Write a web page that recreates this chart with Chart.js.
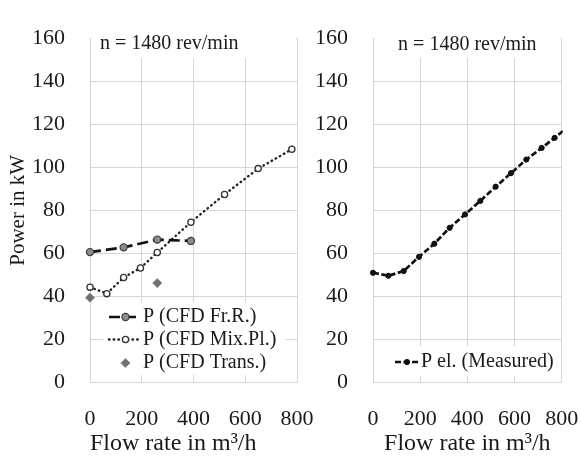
<!DOCTYPE html>
<html>
<head>
<meta charset="utf-8">
<script src="https://cdn.jsdelivr.net/npm/chart.js@4.4.1/dist/chart.umd.min.js"></script>
<style>
  body { margin: 0; background: #fff; }
  #wrap { position: relative; width: 581px; height: 457px; }
  #left { position: absolute; left: 0; top: 0; }
  #right { position: absolute; left: 300px; top: 0; }
</style>
</head>
<body>
<div id="wrap">
  <canvas id="left" width="322" height="457"></canvas>
  <canvas id="right" width="281" height="457"></canvas>
</div>
<script>
// values
const frrFlow = [0, 130, 260, 390];
const frrPower = [60.6, 62.8, 66.4, 65.8];
const mixFlow = [0, 65, 130, 195, 260, 390, 520, 650, 780];
const mixPower = [44.3, 41.3, 48.8, 53.2, 60.4, 74.5, 87.4, 99.4, 108.4];
const transFlow = [0, 260];
const transPower = [39.4, 46.2];
const measFlow = [0, 65, 130, 195, 260, 325, 390, 455, 520, 585, 650, 715, 770, 835];
const measPower = [51.0, 49.6, 51.8, 58.4, 64.5, 71.9, 78.1, 84.4, 91.0, 97.3, 103.6, 109.0, 113.7, 119.5];
const flowTicks = [0, 200, 400, 600, 800];
const powerTicks = [0, 20, 40, 60, 80, 100, 120, 140, 160];
const speedNote = 'n = 1480 rev/min';

const serif = "'Liberation Serif', 'Times New Roman', serif";
const textColor = '#1a1a1a';
const gridColor = '#d6d6d6';

const pts = (xs, ys) => xs.map((x, i) => ({ x: x, y: ys[i] }));

// white box with the speed note, drawn over the grid
const notePlugin = {
  id: 'speedNote',
  beforeDatasetsDraw(chart, args, opts) {
    const ctx = chart.ctx, a = chart.chartArea;
    ctx.save();
    ctx.fillStyle = '#fff';
    ctx.fillRect(a.left + 1, opts.boxTop, a.right - a.left - 2, opts.boxBottom - opts.boxTop);
    ctx.font = '20px ' + serif;
    ctx.fillStyle = textColor;
    ctx.textBaseline = 'middle';
    ctx.textAlign = opts.align;
    const x = opts.align === 'center' ? (a.left + a.right) / 2 : a.left + opts.inset;
    ctx.fillText(opts.text, x, opts.y);
    ctx.restore();
  }
};

// legend inside the plot, line sample + marker + label
const legendPlugin = {
  id: 'insideLegend',
  afterDatasetsDraw(chart, args, opts) {
    const ctx = chart.ctx;
    ctx.save();
    ctx.fillStyle = '#fff';
    ctx.fillRect(opts.box[0], opts.box[1], opts.box[2], opts.box[3]);
    chart.data.datasets.forEach((ds, i) => {
      const y = opts.rows[i];
      if (ds.showLine) {
        ctx.beginPath();
        ctx.setLineDash(ds.borderDash || []);
        ctx.lineWidth = ds.borderWidth;
        ctx.lineCap = ds.borderCapStyle || 'butt';
        ctx.strokeStyle = ds.borderColor;
        ctx.moveTo(opts.lineX[0], y);
        ctx.lineTo(opts.lineX[1], y);
        ctx.stroke();
        ctx.setLineDash([]);
      }
      ctx.fillStyle = ds.pointBackgroundColor;
      ctx.strokeStyle = ds.pointBorderColor;
      ctx.lineWidth = ds.pointBorderWidth;
      Chart.helpers.drawPoint(ctx, {
        pointStyle: ds.pointStyle || 'circle', rotation: 0,
        radius: ds.pointRadius, borderWidth: ds.pointBorderWidth
      }, opts.markX, y);
      ctx.fillStyle = textColor;
      ctx.font = '20px ' + serif;
      ctx.textAlign = 'left';
      ctx.textBaseline = 'middle';
      ctx.fillText(ds.label, opts.textX, y);
    });
    ctx.restore();
  }
};

function xAxis(titleAlign) {
  return {
    type: 'linear', min: 0, max: 800,
    afterBuildTicks: (s) => { s.ticks = flowTicks.map(v => ({ value: v })); },
    ticks: { padding: 24, color: textColor, font: { family: serif, size: 22 } },
    grid: { color: gridColor, drawTicks: false },
    border: { color: gridColor },
    title: {
      display: true, text: 'Flow rate in m³/h', color: textColor, align: titleAlign,
      font: { family: serif, size: 24, lineHeight: 1.08 }, padding: 0
    },
    afterFit: (s) => { s.height = 74.5; s.paddingLeft = 0; s.paddingRight = 0; }
  };
}

function yAxis(width, withTitle) {
  return {
    type: 'linear', min: 0, max: 160,
    afterBuildTicks: (s) => { s.ticks = powerTicks.map(v => ({ value: v })); },
    ticks: { padding: 25, color: textColor, font: { family: serif, size: 22 } },
    grid: { color: gridColor, drawTicks: false },
    border: { color: gridColor },
    title: {
      display: withTitle, text: 'Power in kW', color: textColor,
      font: { family: serif, size: 21, lineHeight: 1.2 }, padding: { top: 5.4, bottom: 0 }
    },
    afterFit: (s) => { s.width = width; }
  };
}

new Chart(document.getElementById('left'), {
  type: 'scatter',
  data: {
    datasets: [
      {
        label: 'P (CFD Fr.R.)', data: pts(frrFlow, frrPower), showLine: true,
        borderColor: '#111', borderWidth: 2.7, borderDash: [11, 5],
        pointRadius: 3.6, pointBackgroundColor: '#8c8c8c', pointBorderColor: '#3a3a3a', pointBorderWidth: 1.2,
        clip: false
      },
      {
        label: 'P (CFD Mix.Pl.)', data: pts(mixFlow, mixPower), showLine: true,
        borderColor: '#222', borderWidth: 2.4, borderDash: [0.5, 4.2], borderCapStyle: 'round',
        pointRadius: 3.1, pointBackgroundColor: '#fff', pointBorderColor: '#333', pointBorderWidth: 1.3,
        clip: false
      },
      {
        label: 'P (CFD Trans.)', data: pts(transFlow, transPower), showLine: false,
        pointStyle: 'rectRot', pointRadius: 4.6,
        pointBackgroundColor: '#707070', pointBorderColor: '#707070', pointBorderWidth: 0.5,
        clip: false
      }
    ]
  },
  options: {
    responsive: false, animation: false, devicePixelRatio: 1,
    layout: { padding: { top: 19, right: 25, left: 0, bottom: 0 } },
    scales: { x: xAxis('start'), y: yAxis(90, true) },
    plugins: {
      legend: { display: false }, tooltip: { enabled: false },
      speedNote: { text: speedNote, align: 'left', inset: 10, y: 43.5, boxTop: 24, boxBottom: 58 },
      insideLegend: { box: [104, 302, 182, 73], rows: [317, 339.5, 363], lineX: [109, 140], markX: 125.5, textX: 143 }
    }
  },
  plugins: [notePlugin, legendPlugin]
});

new Chart(document.getElementById('right'), {
  type: 'scatter',
  data: {
    datasets: [
      {
        label: 'P el. (Measured)', data: pts(measFlow, measPower), showLine: true,
        borderColor: '#111', borderWidth: 2.7, borderDash: [6, 2.5],
        pointRadius: 2.6, pointBackgroundColor: '#111', pointBorderColor: '#111', pointBorderWidth: 1,
        clip: { left: 10, top: 10, bottom: 10, right: 1 }
      }
    ]
  },
  options: {
    responsive: false, animation: false, devicePixelRatio: 1,
    layout: { padding: { top: 19, right: 19.3, left: 0, bottom: 0 } },
    scales: { x: xAxis('center'), y: yAxis(73, false) },
    plugins: {
      legend: { display: false }, tooltip: { enabled: false },
      speedNote: { text: speedNote, align: 'center', y: 45, boxTop: 24, boxBottom: 58 },
      insideLegend: { box: [89, 346, 168, 30], rows: [362], lineX: [95, 119], markX: 107, textX: 121 }
    }
  },
  plugins: [notePlugin, legendPlugin]
});
</script>
</body>
</html>
